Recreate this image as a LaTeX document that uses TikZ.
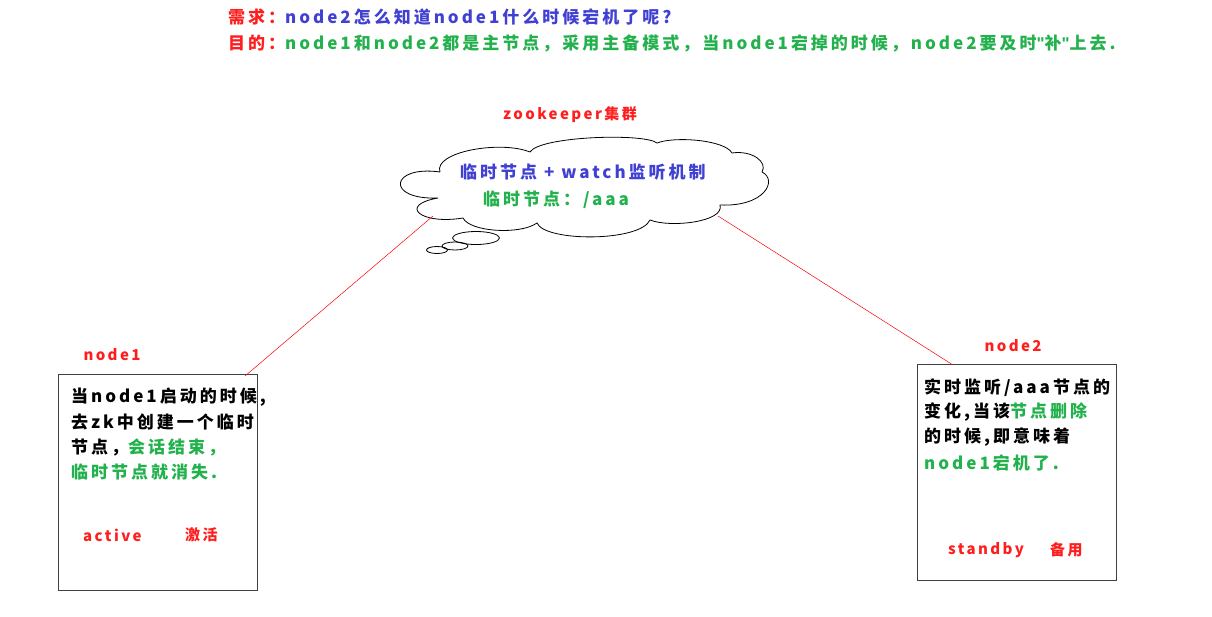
\documentclass[tikz,border=0pt]{standalone}
\usepackage{fontspec}
\setmainfont{Noto Sans CJK SC}
\newfontfamily\memofont{Noto Sans CJK SC}[LetterSpace=17.6]
\newfontfamily\tagfont{Noto Sans CJK SC}[LetterSpace=16]
\newfontfamily\quotefont{Liberation Sans}
\usetikzlibrary{shapes.geometric}
\definecolor{zkred}{RGB}{255,30,30}
\definecolor{zkblue}{RGB}{64,64,210}
\definecolor{zkgreen}{RGB}{34,177,76}
\begin{document}
\begin{tikzpicture}[x=1pt,y=-1pt,
    txt/.style={anchor=west,inner sep=0pt,font=\memofont\fontsize{17}{20}\selectfont\bfseries},
    tag/.style={inner sep=0pt,text=zkred,font=\tagfont\fontsize{15}{20}\selectfont\bfseries},
    host/.style={draw=black!75,line width=1pt,minimum width=199pt,minimum height=216pt,inner sep=0pt},
    link/.style={draw=red,line width=0.5pt},
    bubble/.style={ellipse,draw,line width=0.8pt,inner sep=0pt}]
    \useasboundingbox (0,0) rectangle (1212,616);

    % question and goal
    \node[txt] (need) at (228,17) {\textcolor{zkred}{需求：}\textcolor{zkblue}{node2怎么知道node1什么时候宕机了呢?}};
    \node[txt] (goal) at (228,43) {\textcolor{zkred}{目的：}\textcolor{zkgreen}{node1和node2都是主节点，采用主备模式，当node1宕掉的时候，node2要及时{\quotefont"}补{\quotefont"}上去.}};

    % zookeeper cloud
    \node[tag] (zklabel) at (570,115) {zookeeper集群};
    \draw[line width=0.8pt] (440,172) .. controls (433,152) and (500,140) .. (530,152)
        .. controls (540,136) and (645,133) .. (657,143)
        .. controls (675,136) and (725,140) .. (732,153)
        .. controls (752,150) and (768,162) .. (762,172)
        .. controls (778,180) and (765,207) .. (720,205)
        .. controls (725,222) and (670,228) .. (650,220)
        .. controls (640,242) and (545,242) .. (537,223)
        .. controls (520,235) and (470,232) .. (463,218)
        .. controls (420,225) and (398,205) .. (438,198)
        .. controls (385,200) and (390,165) .. (440,172);
    \node[txt,text=zkblue] (watch) at (460,172) {临时节点 + watch监听机制};
    \node[txt,text=zkgreen] (tmp) at (483,200) {临时节点：/aaa};
    \node[bubble,minimum width=47pt,minimum height=13pt] (bub1) at (476,238) {};
    \node[bubble,minimum width=26pt,minimum height=8pt] (bub2) at (455,246) {};
    \node[bubble,minimum width=21pt,minimum height=7pt] (bub3) at (437,250) {};

    % node1
    \node[tag] (n1) at (112,355) {node1};
    \node[host] (box1) at (157.5,482) {};
    \node[txt] (a1) at (71,397) {当node1启动的时候,};
    \node[txt] (a2) at (71,422) {去zk中创建一个临时};
    \node[txt] (a3) at (71,447) {节点，\textcolor{zkgreen}{会话结束，}};
    \node[txt,text=zkgreen] (a4) at (71,472) {临时节点就消失.};
    \node[tag,anchor=west] (act) at (83,535) {active};
    \node[tag,anchor=west] (act2) at (185,535) {激活};

    % node2
    \node[tag] (n2) at (1013,346) {node2};
    \node[host] (box2) at (1016.5,472.5) {};
    \node[txt] (b1) at (924,388) {实时监听/aaa节点的};
    \node[txt] (b2) at (924,412) {变化,当该\textcolor{zkgreen}{节点删除}};
    \node[txt] (b3) at (924,437) {的时候,即意味着};
    \node[txt,text=zkgreen] (b4) at (924,463) {node1宕机了.};
    \node[tag,anchor=west] (stb) at (948,550) {standby};
    \node[tag,anchor=west] (stb2) at (1050,550) {备用};

    % links
    \coordinate (zkl) at (433,216);
    \coordinate (zkr) at (718,216);
    \coordinate (h1) at (245,376);
    \coordinate (h2) at (953,365);
    \draw[link] (zkl) -- (h1);
    \draw[link] (zkr) -- (h2);
\end{tikzpicture}
\end{document}
